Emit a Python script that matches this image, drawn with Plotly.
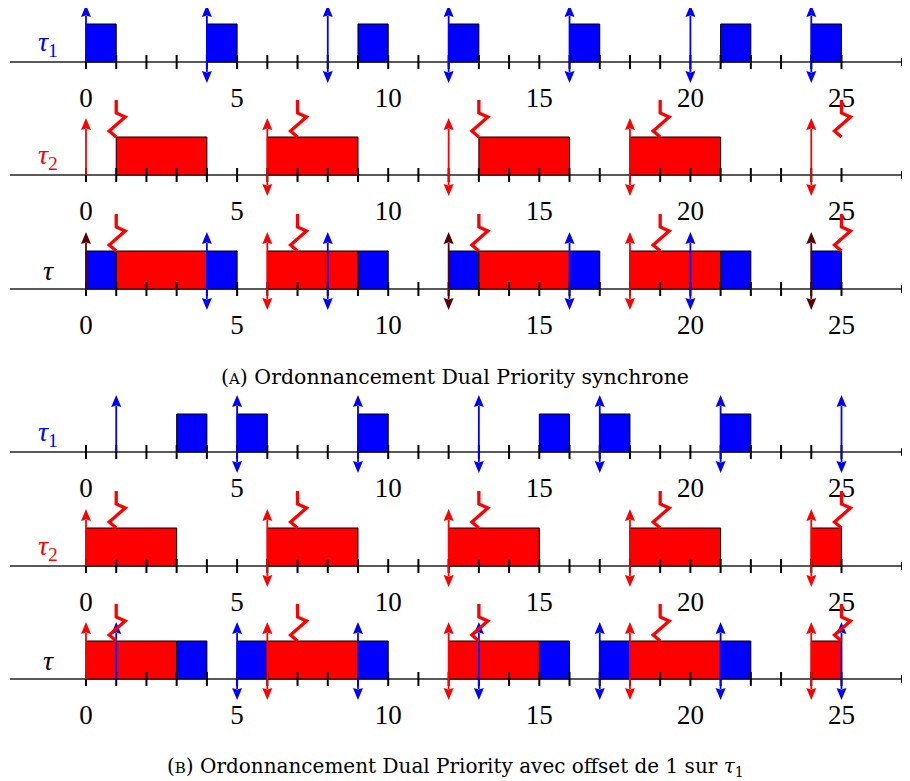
import plotly.graph_objects as go

# ---------------- data ----------------
tick_positions = list(range(0, 26))
tick_labels = [0, 5, 10, 15, 20, 25]

# (A) synchronous
a_t1_release = [0, 4, 8, 12, 16, 20, 24]
a_t1_deadline = [4, 8, 12, 16, 20, 24]
a_t1_start = [0, 4, 9, 12, 16, 21, 24]
a_t1_end = [1, 5, 10, 13, 17, 22, 25]
a_t2_release = [0, 6, 12, 18, 24]
a_t2_deadline = [6, 12, 18, 24]
a_t2_promotion = [1, 7, 13, 19, 25]
a_t2_start = [1, 6, 13, 18]
a_t2_end = [4, 9, 16, 21]

# (B) offset 1 on tau1
b_t1_release = [1, 5, 9, 13, 17, 21, 25]
b_t1_deadline = [5, 9, 13, 17, 21, 25]
b_t1_start = [3, 5, 9, 15, 17, 21]
b_t1_end = [4, 6, 10, 16, 18, 22]
b_t2_release = [0, 6, 12, 18, 24]
b_t2_deadline = [6, 12, 18, 24]
b_t2_promotion = [1, 7, 13, 19, 25]
b_t2_start = [0, 6, 12, 18, 24]
b_t2_end = [3, 9, 15, 21, 25]

caption_a = "(<span style='font-size:15px'>A</span>) Ordonnancement Dual Priority synchrone"
caption_b = "(<span style='font-size:15px'>B</span>) Ordonnancement Dual Priority avec offset de 1 sur <i>τ</i><sub>1</sub>"

# ---------------- style / layout ----------------
PAGE_W, PAGE_H = 910, 781
OFF = 8                      # default body margin of the page
W, H = PAGE_W - OFF, PAGE_H - OFF
PX0, UNIT = 86.0, 30.22
BLUE, RED, MAROON = "#0000ff", "#ff0000", "#5a0000"
SERIF = "Liberation Serif"
CAP_FONT = "DejaVu Serif"
row_base = [62, 175, 289, 452, 566, 679]
BOX_H = 38
UP_LEN, DOWN_LEN = 57, 21
HEAD_L, HEAD_HW = 12, 5
TICK_HALF = 7


def dx(px):
    return px / UNIT


shapes = []


def line(x0, y0, x1, y1, color, width):
    shapes.append(dict(type="line", xref="x", yref="y", x0=x0, y0=y0, x1=x1, y1=y1,
                       line=dict(color=color, width=width)))


def poly(points, color, lw=0, lc=None):
    p = "M " + " L ".join(f"{x},{y}" for x, y in points) + " Z"
    shapes.append(dict(type="path", xref="x", yref="y", path=p, fillcolor=color,
                       line=dict(color=lc or color, width=lw)))


def axis(base):
    xa = dx(10 - PX0)
    xb = dx(903 - PX0)
    line(xa, base, xb, base, "#222222", 1.3)
    poly([(dx(910 - PX0), base), (dx(901 - PX0), base - 4), (dx(901 - PX0), base + 4)], "#000000")


def ticks(base):
    for t in tick_positions:
        line(t, base - TICK_HALF, t, base + TICK_HALF, "#000000", 2)


def boxes(base, starts, ends, color):
    for s, e in zip(starts, ends):
        shapes.append(dict(type="rect", xref="x", yref="y", x0=s, x1=e, y0=base - BOX_H, y1=base,
                           fillcolor=color, line=dict(color="#000000", width=1)))


def up_arrow(x, base, color):
    tip = base - UP_LEN
    line(x, base, x, tip + HEAD_L - 1, color, 1.8)
    poly([(x, tip), (x - dx(HEAD_HW), tip + HEAD_L), (x, tip + HEAD_L - 1.5), (x + dx(HEAD_HW), tip + HEAD_L)], color)


def down_arrow(x, base, color):
    tip = base + DOWN_LEN
    line(x, base, x, tip - HEAD_L + 1, color, 1.8)
    poly([(x, tip), (x - dx(HEAD_HW), tip - HEAD_L), (x, tip - HEAD_L + 1.5), (x + dx(HEAD_HW), tip - HEAD_L)], color)


def zigzag(x, base):
    top = base - BOX_H
    pts = [(x, top - 37), (x, top - 24), (x + dx(9), top - 20), (x - dx(7), top - 6), (x, top)]
    p = "M " + " L ".join(f"{a},{b}" for a, b in pts)
    shapes.append(dict(type="path", xref="x", yref="y", path=p,
                       line=dict(color=RED, width=3.3)))


def merged(list1, list2):
    out = {}
    for x in list1:
        out.setdefault(x, set()).add(BLUE)
    for x in list2:
        out.setdefault(x, set()).add(RED)
    return {x: (MAROON if len(c) > 1 else next(iter(c))) for x, c in out.items()}


def section(bases, t1r, t1d, t1s, t1e, t2r, t2d, t2p, t2s, t2e):
    b1, b2, b3 = bases
    # tau1 row
    axis(b1)
    boxes(b1, t1s, t1e, BLUE)
    ticks(b1)
    for x in t1r:
        up_arrow(x, b1, BLUE)
    for x in t1d:
        down_arrow(x, b1, BLUE)
    # tau2 row
    axis(b2)
    boxes(b2, t2s, t2e, RED)
    ticks(b2)
    for x in t2r:
        up_arrow(x, b2, RED)
    for x in t2d:
        down_arrow(x, b2, RED)
    for x in t2p:
        zigzag(x, b2)
    # combined row
    axis(b3)
    boxes(b3, t1s, t1e, BLUE)
    boxes(b3, t2s, t2e, RED)
    ticks(b3)
    for x, c in merged(t1r, t2r).items():
        up_arrow(x, b3, c)
    for x, c in merged(t1d, t2d).items():
        down_arrow(x, b3, c)
    for x in t2p:
        zigzag(x, b3)


section(row_base[0:3], a_t1_release, a_t1_deadline, a_t1_start, a_t1_end,
        a_t2_release, a_t2_deadline, a_t2_promotion, a_t2_start, a_t2_end)
section(row_base[3:6], b_t1_release, b_t1_deadline, b_t1_start, b_t1_end,
        b_t2_release, b_t2_deadline, b_t2_promotion, b_t2_start, b_t2_end)

fig = go.Figure()

# tick labels under each row
lx, ly, lt = [], [], []
for base in row_base:
    for t in tick_labels:
        lx.append(t)
        ly.append(base + 38)
        lt.append(str(t))
fig.add_trace(go.Scatter(x=lx, y=ly, text=lt, mode="text", textposition="middle center",
                         textfont=dict(family=SERIF, size=27, color="#000000"),
                         hoverinfo="skip", showlegend=False))

annotations = []
row_names = [("<i>τ</i><sub>1</sub>", BLUE), ("<i>τ</i><sub>2</sub>", RED), ("<i>τ</i>", "#000000")] * 2
for base, (name, col) in zip(row_base, row_names):
    annotations.append(dict(x=dx(48 - PX0), y=base - BOX_H / 2, xref="x", yref="y", text=name,
                            showarrow=False, xanchor="center", yanchor="middle",
                            font=dict(family=SERIF, size=28, color=col)))
annotations.append(dict(x=dx(455 - PX0), y=377, xref="x", yref="y", text=caption_a, showarrow=False,
                        xanchor="center", yanchor="middle", font=dict(family=CAP_FONT, size=20.5, color="#000000")))
annotations.append(dict(x=dx(455 - PX0), y=767, xref="x", yref="y", text=caption_b, showarrow=False,
                        xanchor="center", yanchor="middle", font=dict(family=CAP_FONT, size=20, color="#000000")))

fig.update_layout(
    width=W, height=H, margin=dict(l=0, r=0, t=0, b=0),
    paper_bgcolor="white", plot_bgcolor="white",
    xaxis=dict(range=[dx(OFF - PX0), dx(PAGE_W - PX0)], visible=False, fixedrange=True),
    yaxis=dict(range=[PAGE_H, OFF], visible=False, fixedrange=True),
    shapes=shapes, annotations=annotations, showlegend=False,
)
fig.write_html("out.html")
